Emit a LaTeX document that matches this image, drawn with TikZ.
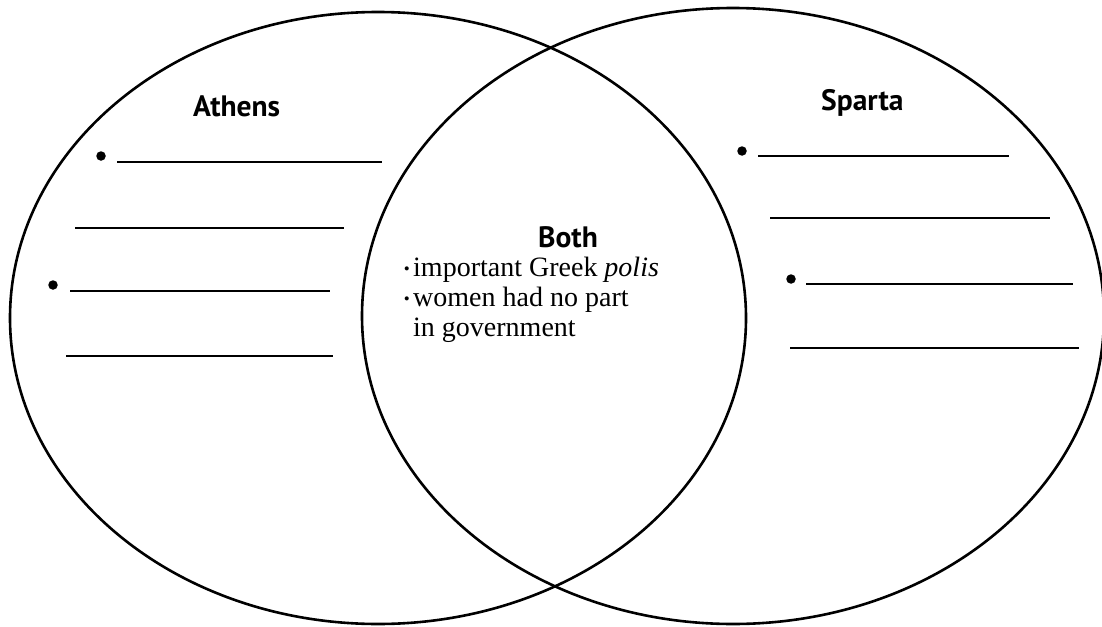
\documentclass[tikz,border=0pt]{standalone}
\usepackage{fontspec}
\setmainfont{Liberation Serif}
\newfontfamily\headfont{PT Sans}
\begin{document}
\begin{tikzpicture}[x=1pt,y=-1pt,
  ring/.style={line width=2.6pt},
  blank/.style={line width=1.6pt},
  head/.style={font=\headfont\bfseries\fontsize{29.5}{32}\selectfont, inner sep=0pt, anchor=base west},
  body/.style={font=\fontsize{28}{30}\selectfont, inner sep=0pt, anchor=base west},
  bul/.style={font=\fontsize{28}{30}\selectfont, inner sep=0pt, anchor=base east},
  dotn/.style={circle, fill=black, inner sep=0pt, minimum size=9.5pt}]
\useasboundingbox (0,0) rectangle (1102,626);
\begin{scope}
\clip (0,0) rectangle (1102,626);
\draw[ring] (378,318) ellipse [x radius=368, y radius=306];
\draw[ring] (733,316) ellipse [x radius=371, y radius=308];
\end{scope}
% headings
\node[head] (athens) at (193,116) {Athens};
\node[head] (sparta) at (821,110) {Sparta};
\node[head] (both) at (538,247) {Both};
% both text
\node[bul] (b1) at (410,276) {\fontsize{17}{17}\selectfont\raisebox{2pt}{•}};
\node[body] (c1) at (413,276) {important Greek \textit{polis}};
\node[bul] (b2) at (410,306) {\fontsize{17}{17}\selectfont\raisebox{2pt}{•}};
\node[body] (c2) at (413,306) {women had no part};
\node[body] (c3) at (413,336) {in government};
% Athens blanks
\node[dotn] (a1) at (101,156) {};
\draw[blank] (117,162) -- (382,162);
\draw[blank] (75,228) -- (344,228);
\node[dotn] (a2) at (53,285) {};
\draw[blank] (70,291) -- (330,291);
\draw[blank] (66,356) -- (333,356);
% Sparta blanks
\node[dotn] (s1) at (742,151) {};
\draw[blank] (758,156) -- (1009,156);
\draw[blank] (770,218) -- (1050,218);
\node[dotn] (s2) at (791,279) {};
\draw[blank] (806,284) -- (1073,284);
\draw[blank] (790,348) -- (1079,348);
\end{tikzpicture}
\end{document}
